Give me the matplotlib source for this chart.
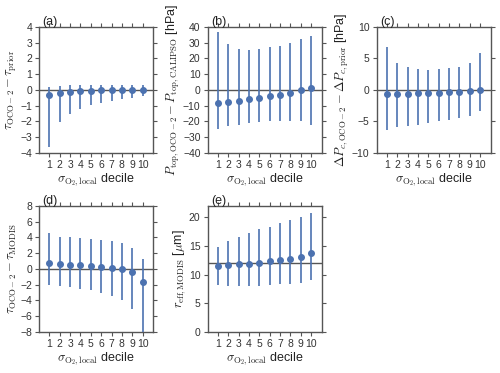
import matplotlib
matplotlib.use("Agg")
import matplotlib.pyplot as plt
import numpy as np

deciles = [1, 2, 3, 4, 5, 6, 7, 8, 9, 10]

# (a) tau difference vs prior
a_mid = [-0.35, -0.2, -0.12, -0.08, -0.05, -0.03, -0.02, -0.01, 0.0, 0.02]
a_low = [-3.65, -2.05, -1.55, -1.2, -0.95, -0.8, -0.7, -0.6, -0.5, -0.4]
a_high = [0.2, 0.25, 0.3, 0.3, 0.3, 0.3, 0.3, 0.3, 0.3, 0.3]

# (b) cloud top pressure vs CALIPSO
b_mid = [-8, -7.5, -7, -6, -5, -4, -3, -2, -0.3, 1]
b_low = [-25, -23, -22, -21, -20.5, -20, -19.5, -19.5, -19.5, -22.5]
b_high = [37, 29, 26, 25, 26, 27, 28, 30, 32, 34.5]

# (c) cloud pressure thickness vs prior
c_mid = [-0.6, -0.6, -0.6, -0.55, -0.5, -0.45, -0.35, -0.3, -0.15, 0.0]
c_low = [-6.3, -5.9, -5.7, -5.5, -5.2, -5.0, -4.8, -4.5, -4.2, -3.4]
c_high = [6.8, 4.3, 3.6, 3.3, 3.2, 3.3, 3.4, 3.6, 4.2, 5.8]

# (d) tau difference vs MODIS
d_mid = [0.8, 0.65, 0.55, 0.5, 0.4, 0.3, 0.15, -0.05, -0.45, -1.7]
d_low = [-2.0, -2.2, -2.35, -2.5, -2.7, -3.0, -3.4, -4.0, -5.1, -9.0]
d_high = [4.5, 4.1, 4.0, 3.9, 3.8, 3.7, 3.6, 3.3, 2.6, 1.2]

# (e) MODIS effective radius
e_mid = [11.5, 11.7, 11.8, 11.9, 12.1, 12.3, 12.5, 12.8, 13.1, 13.8]
e_low = [8.2, 8.1, 8.0, 8.0, 8.1, 8.2, 8.3, 8.4, 8.6, 9.0]
e_high = [14.8, 15.8, 16.5, 17.2, 17.9, 18.4, 19.0, 19.5, 20.0, 20.7]
e_ref = 12

plt.rcParams["font.family"] = ["Liberation Sans", "DejaVu Sans"]
plt.rcParams["mathtext.fontset"] = "cm"
plt.rcParams["axes.edgecolor"] = "#555555"
plt.rcParams["axes.linewidth"] = 1.0

BLUE = "#4C72B0"
XLAB = r"$\sigma_{\rm O_2, local}$ decile"

panels = [
    ("(a)", a_mid, a_low, a_high, (-4, 4), 1, 0,
     r"$\tau_{\rm OCO-2} - \tau_{\rm prior}$", [0.078, 0.590, 0.228, 0.338]),
    ("(b)", b_mid, b_low, b_high, (-40, 40), 10, 0,
     r"$P_{\rm top, OCO-2} - P_{\rm top, CALIPSO}$ [hPa]", [0.415, 0.590, 0.228, 0.338]),
    ("(c)", c_mid, c_low, c_high, (-10, 10), 5, 0,
     r"$\Delta P_{c,\rm OCO-2} - \Delta P_{c,\rm prior}$ [hPa]", [0.753, 0.590, 0.228, 0.338]),
    ("(d)", d_mid, d_low, d_high, (-8, 8), 2, 0,
     r"$\tau_{\rm OCO-2} - \tau_{\rm MODIS}$", [0.078, 0.110, 0.228, 0.338]),
    ("(e)", e_mid, e_low, e_high, (0, 22), 5, e_ref,
     r"$r_{\rm eff, MODIS}$ [$\mu$m]", [0.415, 0.110, 0.228, 0.338]),
]

fig = plt.figure(figsize=(5, 3.73), dpi=100)

for lab, mid, low, high, ylim, step, ref, ylab, pos in panels:
    ax = fig.add_axes(pos)
    mid = np.array(mid)
    yerr = [mid - np.array(low), np.array(high) - mid]
    ax.axhline(ref, color="#555555", lw=1.0, zorder=1)
    ax.errorbar(deciles, mid, yerr=yerr, fmt="o", color=BLUE, ms=4,
                ecolor=BLUE, elinewidth=1.2, capsize=0, zorder=3)
    ax.set_xlim(0, 11)
    ax.set_ylim(*ylim)
    ax.set_xticks(deciles)
    ax.set_yticks(np.arange(ylim[0], ylim[1] + 0.01, step))
    ax.tick_params(direction="out", length=3, width=0.8, color="#555555",
                   labelsize=7.5, labelcolor="#333333",
                   top=True, right=True, pad=2)
    ax.set_xlabel(XLAB, fontsize=9, labelpad=1, color="#222222")
    ax.set_ylabel(ylab, fontsize=9, labelpad=1, color="#222222")
    ax.text(0.03, 0.99, lab, transform=ax.transAxes, fontsize=9,
            va="bottom", ha="left", color="#222222")

fig.savefig("out.png", dpi=100)
